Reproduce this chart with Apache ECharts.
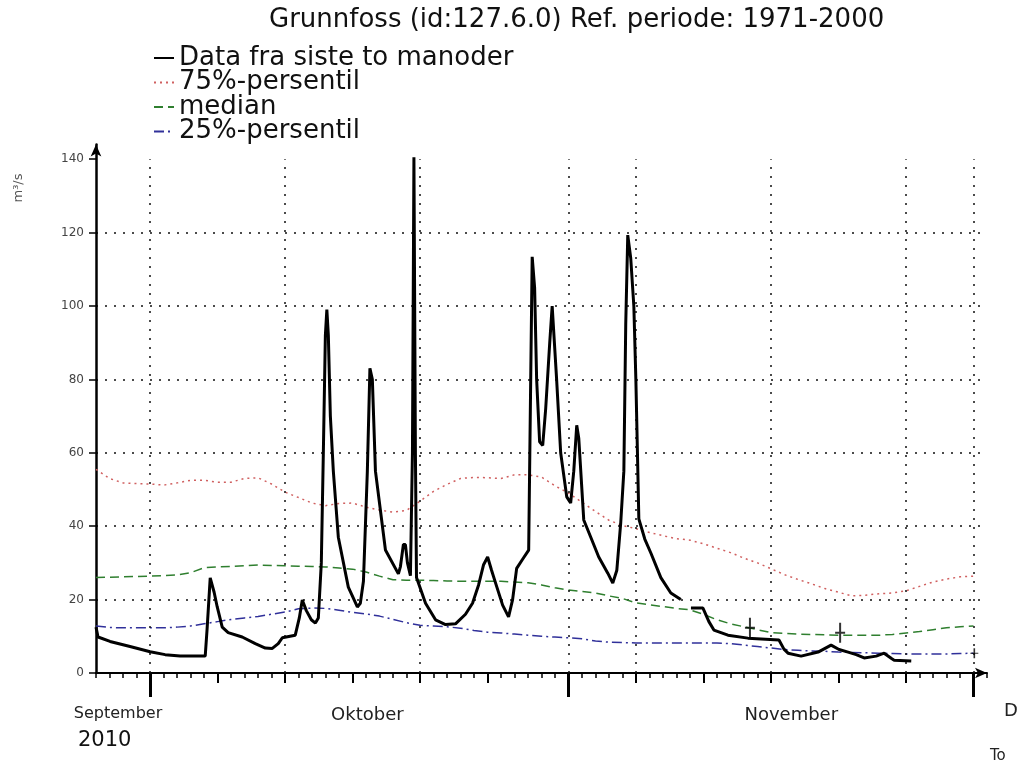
<!DOCTYPE html>
<html><head><meta charset="utf-8">
<script src="https://cdn.jsdelivr.net/npm/echarts@6/dist/echarts.min.js"></script>
<style>html,body{margin:0;padding:0;background:#fff}#c{width:1017px;height:767px}</style>
</head><body><div id="c"></div>
<script>
// ---- data ----
const startDate = [2010, 9, 27];   // first day of the axis (Sep 27 2010)
const endDate = [2010, 12, 2];
// daily percentiles from Sep 27 to Dec 1
const p75 = [55.5,53,51.8,51.6,51.5,51.2,51.8,52.5,52.5,52,52,53,53.2,51.5,49.3,47.8,46.3,45.6,46.2,46.3,45.2,44.4,43.8,44.3,46.8,49.5,51.4,53,53.3,53.2,53,54,54,53.4,51,49,46.5,44,41.6,40.2,39.3,38.3,37.4,36.6,36.2,35.2,34,32.8,31.3,30,28.4,26.8,25.5,24.3,23,22,21,21.2,21.6,21.8,22.4,23.6,24.8,25.6,26.2,26.4];
const p50 = [26.0,26.1,26.2,26.3,26.4,26.5,26.7,27.3,28.7,28.9,29,29.2,29.4,29.3,29.2,29.1,29,28.9,28.6,28.3,27.5,26.4,25.4,25.3,25.3,25.2,25.1,25,25,25,25,24.8,24.6,24,23.2,22.6,22.2,21.8,21,20.3,19.1,18.6,18.1,17.6,17.2,16,14.5,13.4,12.6,11.8,11,10.8,10.6,10.5,10.4,10.3,10.3,10.3,10.3,10.5,10.9,11.3,11.8,12.3,12.6,12.8];
const p25 = [12.8,12.4,12.3,12.3,12.3,12.3,12.5,12.8,13.4,14,14.6,15,15.4,16,16.6,17.5,17.7,17.6,17.1,16.5,16.1,15.5,14.6,13.7,13,12.8,12.6,12.2,11.6,11.1,10.9,10.6,10.3,10,9.8,9.6,9.3,8.7,8.4,8.3,8.2,8.2,8.2,8.2,8.2,8.2,8.2,8,7.6,7.2,6.8,6.4,6.2,6,5.9,5.7,5.6,5.5,5.4,5.3,5.2,5.2,5.2,5.2,5.3,5.4];
// observed flow: days since Sep 27 and values (m3/s)
const flowDays = [0,0.15,1.04,2.52,4.01,5.12,6.23,8.09,8.23,8.46,8.75,8.98,9.35,9.79,10.83,11.8,12.54,13.06,13.5,13.8,14.76,15.06,15.28,15.58,15.95,16.25,16.47,16.69,16.84,16.99,17.1,17.21,17.36,17.58,17.95,18.69,19.36,19.58,19.81,20.1,20.29,20.47,20.7,21.44,22.4,22.55,22.77,22.92,23.07,23.29,23.44,23.55,23.66,23.74,24.41,25.15,25.89,26.63,27.37,27.89,28.34,28.71,29.01,29.3,29.6,30.12,30.56,30.86,31.16,31.6,32.05,32.2,32.31,32.49,32.64,32.86,33.09,33.31,33.61,33.79,34.12,34.42,34.87,35.16,35.39,35.61,35.76,36.13,36.65,37.24,37.91,38.28,38.58,38.87,39.1,39.24,39.39,39.61,39.84,39.99,40.13,40.21,40.65,41.1,41.84,42.58,43.32,43.69,44.07,44.96,45.4,45.77,46.81,48.29,50.59,50.96,51.26,52.23,53.49,54.45,55.04,55.71,56.31,56.9,57.79,58.38,58.9,59.12,60.39];
const flowValues = [12.5,9.8,8.6,7.2,5.8,5.0,4.6,4.6,12,25.9,22,18,12.5,11,9.8,8,6.8,6.7,8,9.6,10.3,15,19.9,17,14.5,13.6,15,30,60,92,99,92,70,55,37,23.4,18,19,25,55,83,80,55,33.5,27,29,35,35,30,26.5,60,140.5,60,26,19,14.5,13.2,13.4,16,19,24,29.5,31.6,28,24.5,18.5,15.3,20,28.5,31,33.5,80,113.4,105,80,63,62,72,90,100,80,60,48,46.3,55,67.5,64,41.7,37,31.6,27.2,24.5,28,41,55,95,119.3,113,100,80,56,42,36.5,32.7,26,21.8,20,null,17.7,17.7,14,11.7,10.3,9.5,9,6.5,5.4,4.6,5.7,7.6,6.4,5.7,5,4.1,4.6,5.4,4,3.5,3.3];
const markDays = [48.44, 55.12, 65.06];
const markValues = [12.3, 11, 5.4];
const yTicks = [0,20,40,60,80,100,120,140];
const gridDates = [[2010,10,1],[2010,10,11],[2010,10,21],[2010,11,1],[2010,11,6],[2010,11,16],[2010,11,26],[2010,12,1]];
const mediumTickDates = [[2010,10,6],[2010,10,11],[2010,10,16],[2010,10,21],[2010,10,26],[2010,11,6],[2010,11,11],[2010,11,16],[2010,11,21],[2010,11,26]];
const monthStartDates = [[2010,10,1],[2010,11,1],[2010,12,1]];
const monthLabelDays = [1.63, 20.1, 51.5];   // where the month names sit (days since Sep 27)
const monthNames = ['September','Oktober','November'];
const seriesNames = ['Data fra siste to manoder','75%-persentil','median','25%-persentil'];

// ---- helpers ----
const DAY = 86400000;
const ts = d => Date.UTC(d[0], d[1]-1, d[2]);
const t0 = ts(startDate), tEnd = ts(endDate);
const dayTs = k => t0 + Math.round(k*DAY);
const dailyTicks = [];
for (let k = 0; dayTs(k) <= tEnd; k++) dailyTicks.push(dayTs(k));
const daily = arr => arr.map((v,i)=>[dayTs(i), v]);
const flowData = flowDays.map((d,i)=>[dayTs(d), flowValues[i]==null ? '-' : flowValues[i]]);
const monthLabelTs = monthLabelDays.map(dayTs);
const FONT = 'DejaVu Sans';

const chart = echarts.init(document.getElementById('c'), null, {renderer:'canvas'});
const baseX = {type:'value', min:t0, max:tEnd, gridIndex:0, position:'bottom', splitLine:{show:false}};
chart.setOption({
  animation:false,
  backgroundColor:'#fff',
  title:{text:'Grunnfoss (id:127.6.0) Ref. periode: 1971-2000', left:264, top:2,
    textStyle:{fontSize:26, fontWeight:'normal', fontFamily:FONT, color:'#111'}},
  legend:{data:seriesNames, orient:'vertical', left:148, top:40, itemWidth:20, itemHeight:12, itemGap:-1.5,
    itemStyle:{opacity:0},
    textStyle:{fontSize:26, fontFamily:FONT, color:'#111'}},
  grid:{left:96, right:30, top:144.5, bottom:94},
  xAxis:[
    Object.assign({}, baseX, {
      axisLine:{show:true, lineStyle:{color:'#000', width:2}, symbol:['none','arrow'], symbolSize:[8,12]},
      axisTick:{show:true, customValues:dailyTicks, length:5, lineStyle:{color:'#000', width:1.5}},
      axisLabel:{show:true, customValues:monthLabelTs, margin:33, fontFamily:FONT, color:'#222',
        formatter:(v)=>{const i = monthLabelTs.indexOf(v); return i<0 ? '' : (i===0 ? '{s|'+monthNames[i]+'}' : '{b|'+monthNames[i]+'}');},
        rich:{s:{fontSize:16, fontFamily:FONT, color:'#222'}, b:{fontSize:18, fontFamily:FONT, color:'#222'}}}
    }),
    Object.assign({}, baseX, {
      axisLine:{show:false}, axisLabel:{show:false},
      axisTick:{show:true, customValues:mediumTickDates.map(ts), length:10, lineStyle:{color:'#000', width:2}}
    }),
    Object.assign({}, baseX, {
      axisLine:{show:false}, axisLabel:{show:false},
      axisTick:{show:true, customValues:monthStartDates.map(ts), length:24, lineStyle:{color:'#000', width:3}}
    })
  ],
  yAxis:{type:'value', min:0, max:144, interval:20,
    axisLine:{show:true, lineStyle:{color:'#000', width:2.5}, symbol:['none','arrow'], symbolSize:[8,12]},
    axisTick:{show:true, customValues:yTicks, length:7, lineStyle:{color:'#000', width:1.5}},
    axisLabel:{customValues:yTicks, margin:12, fontSize:12, fontFamily:FONT, color:'#444'},
    splitLine:{show:true, showMaxLine:false, lineStyle:{type:[2,7], color:'#111', width:1.5}}},
  graphic:[
    {type:'text', x:19, y:188, rotation:Math.PI/2, style:{text:'m³/s', fontSize:13, fontFamily:FONT, fill:'#555', align:'center', verticalAlign:'middle'}},
    {type:'text', x:78, y:730, style:{text:'2010', fontSize:21, fontFamily:FONT, fill:'#111'}},
    {type:'text', x:1004, y:702, style:{text:'D', fontSize:18, fontFamily:FONT, fill:'#222'}},
    {type:'text', x:990, y:749, style:{text:'To', fontSize:15, fontFamily:FONT, fill:'#222'}}
  ],
  series:[
    {name:'grid', type:'line', data:[], silent:true, z:1,
      markLine:{silent:true, symbol:['none','none'], label:{show:false}, animation:false,
        lineStyle:{type:[2,7], color:'#111', width:1.5},
        data:gridDates.map(d=>[{coord:[ts(d),0]},{coord:[ts(d),140]}])}},
    {name:seriesNames[1], type:'line', data:daily(p75), showSymbol:false, symbol:'none', z:3,
      lineStyle:{color:'#d06060', type:[2,4], width:1.5}, itemStyle:{color:'#d06060'}},
    {name:seriesNames[2], type:'line', data:daily(p50), showSymbol:false, symbol:'none', z:3,
      lineStyle:{color:'#2f7f2f', type:[9,5], width:1.5}, itemStyle:{color:'#2f7f2f'}},
    {name:seriesNames[3], type:'line', data:daily(p25), showSymbol:false, symbol:'none', z:3,
      lineStyle:{color:'#30309a', type:[10,4,2,4], width:1.5}, itemStyle:{color:'#30309a'}},
    {name:seriesNames[0], type:'line', data:flowData, showSymbol:false, symbol:'none', z:5, connectNulls:false,
      lineStyle:{color:'#000', width:3}, itemStyle:{color:'#000'}},
    {name:'marks', type:'scatter', z:6, silent:true,
      data:markDays.map((d,i)=>[dayTs(d), markValues[i]]),
      symbol:'path://M4,0H6V9H10V11H6V20H4V11H0V9H4Z',
      symbolSize:(v,p)=> p.dataIndex < 2 ? [10,20] : [8,10],
      itemStyle:{color:'#000'}}
  ]
});
</script>
</body></html>
